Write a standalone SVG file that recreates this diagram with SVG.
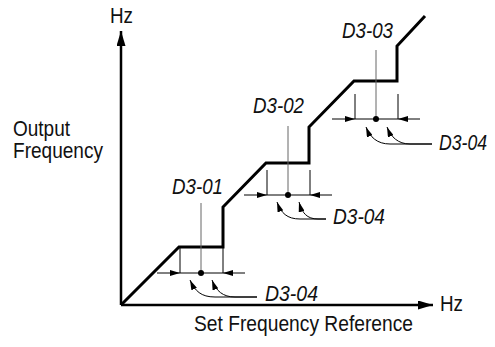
<svg xmlns="http://www.w3.org/2000/svg" width="495" height="347" viewBox="0 0 495 347">
<style>
text{font-family:"Liberation Sans",Arial,sans-serif;font-size:22.5px;fill:#111}
.lbl{font-style:italic}
.thin{stroke:#000;stroke-width:1;fill:none}
.ctr{stroke:#666;stroke-width:1;fill:none}
.curve{stroke:#000;stroke-width:1;fill:none;marker-end:url(#sh)}
.dim{stroke:#000;stroke-width:1;fill:none;marker-end:url(#sh)}
</style>
<defs>
<marker id="sh" viewBox="0 0 10 6" refX="10" refY="3" markerWidth="10" markerHeight="6" markerUnits="userSpaceOnUse" orient="auto"><path d="M0,0 L10,3 L0,6 Z" fill="#000"/></marker>
<marker id="ax" viewBox="0 0 15 9" refX="15" refY="4.5" markerWidth="15" markerHeight="9" markerUnits="userSpaceOnUse" orient="auto"><path d="M0,0 L15,4.5 L0,9 Z" fill="#000"/></marker>
<g id="brk">
<path class="thin" d="M-21,-25 V0 M22,-25 V0 M-21,0 H22"/>
<circle cx="0" cy="0" r="3" fill="#000"/>
<path class="dim" d="M-44,0 H-21"/>
<path class="dim" d="M44,0 H22"/>
</g>
</defs>
<g id="axes">
<path d="M121,305 V31" stroke="#000" stroke-width="2.5" fill="none" marker-end="url(#ax)"/>
<path d="M121,305 H433" stroke="#000" stroke-width="2.5" fill="none" marker-end="url(#ax)"/>
<text x="110" y="23" textLength="23" lengthAdjust="spacingAndGlyphs">Hz</text>
<text x="440" y="311" textLength="23" lengthAdjust="spacingAndGlyphs">Hz</text>
<text x="13" y="136" textLength="57" lengthAdjust="spacingAndGlyphs">Output</text>
<text x="13" y="158" textLength="90" lengthAdjust="spacingAndGlyphs">Frequency</text>
<text x="194" y="331" textLength="219" lengthAdjust="spacingAndGlyphs">Set Frequency Reference</text>
</g>
<g id="curve">
<polyline points="121,305 179,247 223,247 223,207 266,163 309,163 309,127 354,81 397,81 397,46 425,16" stroke="#000" stroke-width="3" fill="none" stroke-linejoin="miter"/>
</g>
<g id="step1">
<path class="ctr" d="M201,203 V273"/>
<use href="#brk" x="201" y="273"/>
<text class="lbl" x="172" y="194" textLength="51" lengthAdjust="spacingAndGlyphs">D3-01</text>
</g>
<g id="step2">
<path class="ctr" d="M288,126 V195"/>
<use href="#brk" x="288" y="195"/>
<text class="lbl" x="253" y="113" textLength="51" lengthAdjust="spacingAndGlyphs">D3-02</text>
</g>
<g id="step3">
<path class="ctr" d="M376,50 V119"/>
<use href="#brk" x="376" y="119"/>
<text class="lbl" x="342" y="38" textLength="51" lengthAdjust="spacingAndGlyphs">D3-03</text>
</g>
<g id="connectors">
<path class="curve" d="M257,297 H215 C201,297 195,291 190,280"/>
<path class="curve" d="M257,297 H235 C223,297 216,291 212,280"/>
<path class="curve" d="M326,219 H300 C287,219 281,213 277,202"/>
<path class="curve" d="M326,219 H318 C307,219 302,213 299,202"/>
<path class="curve" d="M432,144 H390 C377,144 370,137 366,127"/>
<path class="curve" d="M432,144 H410 C398,144 391,137 387,127"/>
</g>
<g id="labels">
<text class="lbl" x="265" y="301" textLength="53" lengthAdjust="spacingAndGlyphs">D3-04</text>
<text class="lbl" x="333" y="224" textLength="52" lengthAdjust="spacingAndGlyphs">D3-04</text>
<text class="lbl" x="439" y="150" textLength="48" lengthAdjust="spacingAndGlyphs">D3-04</text>
</g>
</svg>
